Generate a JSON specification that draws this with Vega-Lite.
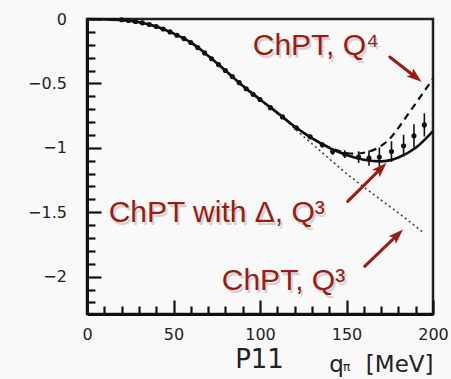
{
  "$schema": "https://vega.github.io/schema/vega-lite/v6.json",
  "width": 346,
  "height": 295,
  "autosize": {"type": "none"},
  "padding": {"left": 87, "top": 19, "right": 18, "bottom": 65},
  "background": "#f9f9f9",
  "config": {
    "view": {"stroke": "#222", "strokeWidth": 2.5},
    "axis": {"grid": false}
  },
  "datasets": {
    "curves": [
      {"q": 0, "v": 0, "m": "d"}, {"q": 10, "v": -0.002, "m": "d"}, {"q": 20, "v": -0.008, "m": "d"}, {"q": 30, "v": -0.025, "m": "d"}, {"q": 40, "v": -0.058, "m": "d"}, {"q": 50, "v": -0.112, "m": "d"}, {"q": 60, "v": -0.182, "m": "d"}, {"q": 70, "v": -0.285, "m": "d"}, {"q": 80, "v": -0.4, "m": "d"}, {"q": 90, "v": -0.518, "m": "d"}, {"q": 100, "v": -0.625, "m": "d"}, {"q": 110, "v": -0.728, "m": "d"}, {"q": 120, "v": -0.835, "m": "d"}, {"q": 130, "v": -0.925, "m": "d"}, {"q": 140, "v": -1.0, "m": "d"}, {"q": 150, "v": -1.055, "m": "d"}, {"q": 160, "v": -1.092, "m": "d"}, {"q": 170, "v": -1.105, "m": "d"}, {"q": 180, "v": -1.075, "m": "d"}, {"q": 190, "v": -1.0, "m": "d"}, {"q": 200, "v": -0.87, "m": "d"},
      {"q": 0, "v": 0, "m": "q4"}, {"q": 10, "v": -0.002, "m": "q4"}, {"q": 20, "v": -0.008, "m": "q4"}, {"q": 30, "v": -0.025, "m": "q4"}, {"q": 40, "v": -0.058, "m": "q4"}, {"q": 50, "v": -0.112, "m": "q4"}, {"q": 60, "v": -0.182, "m": "q4"}, {"q": 70, "v": -0.285, "m": "q4"}, {"q": 80, "v": -0.4, "m": "q4"}, {"q": 90, "v": -0.518, "m": "q4"}, {"q": 100, "v": -0.625, "m": "q4"}, {"q": 110, "v": -0.728, "m": "q4"}, {"q": 120, "v": -0.835, "m": "q4"}, {"q": 130, "v": -0.925, "m": "q4"}, {"q": 140, "v": -0.995, "m": "q4"}, {"q": 145, "v": -1.022, "m": "q4"}, {"q": 150, "v": -1.04, "m": "q4"}, {"q": 155, "v": -1.045, "m": "q4"}, {"q": 160, "v": -1.038, "m": "q4"}, {"q": 165, "v": -1.02, "m": "q4"}, {"q": 170, "v": -0.985, "m": "q4"}, {"q": 175, "v": -0.93, "m": "q4"}, {"q": 180, "v": -0.845, "m": "q4"}, {"q": 185, "v": -0.75, "m": "q4"}, {"q": 190, "v": -0.655, "m": "q4"}, {"q": 195, "v": -0.56, "m": "q4"}, {"q": 200, "v": -0.465, "m": "q4"},
      {"q": 0, "v": 0, "m": "q3"}, {"q": 10, "v": -0.002, "m": "q3"}, {"q": 20, "v": -0.008, "m": "q3"}, {"q": 30, "v": -0.025, "m": "q3"}, {"q": 40, "v": -0.058, "m": "q3"}, {"q": 50, "v": -0.112, "m": "q3"}, {"q": 60, "v": -0.182, "m": "q3"}, {"q": 70, "v": -0.285, "m": "q3"}, {"q": 80, "v": -0.4, "m": "q3"}, {"q": 90, "v": -0.518, "m": "q3"}, {"q": 100, "v": -0.625, "m": "q3"}, {"q": 110, "v": -0.728, "m": "q3"}, {"q": 115, "v": -0.785, "m": "q3"}, {"q": 120, "v": -0.85, "m": "q3"}, {"q": 125, "v": -0.91, "m": "q3"}, {"q": 130, "v": -0.968, "m": "q3"}, {"q": 140, "v": -1.085, "m": "q3"}, {"q": 150, "v": -1.2, "m": "q3"}, {"q": 160, "v": -1.305, "m": "q3"}, {"q": 170, "v": -1.405, "m": "q3"}, {"q": 180, "v": -1.505, "m": "q3"}, {"q": 190, "v": -1.61, "m": "q3"}, {"q": 195, "v": -1.665, "m": "q3"}
    ],
    "points": [
      {"q": 20, "v": -0.006, "lo": -0.016, "hi": 0.004}, {"q": 24, "v": -0.012, "lo": -0.022, "hi": -0.002}, {"q": 28, "v": -0.019, "lo": -0.029, "hi": -0.009}, {"q": 32, "v": -0.03, "lo": -0.04, "hi": -0.02}, {"q": 36, "v": -0.043, "lo": -0.053, "hi": -0.033}, {"q": 40, "v": -0.058, "lo": -0.068, "hi": -0.048}, {"q": 44, "v": -0.078, "lo": -0.088, "hi": -0.068}, {"q": 48, "v": -0.1, "lo": -0.11, "hi": -0.09}, {"q": 52, "v": -0.126, "lo": -0.136, "hi": -0.116}, {"q": 56, "v": -0.152, "lo": -0.162, "hi": -0.142}, {"q": 60, "v": -0.182, "lo": -0.192, "hi": -0.172}, {"q": 64, "v": -0.222, "lo": -0.232, "hi": -0.212}, {"q": 68, "v": -0.263, "lo": -0.273, "hi": -0.253}, {"q": 72, "v": -0.308, "lo": -0.318, "hi": -0.298}, {"q": 76, "v": -0.354, "lo": -0.364, "hi": -0.344}, {"q": 80, "v": -0.4, "lo": -0.41, "hi": -0.39}, {"q": 84, "v": -0.447, "lo": -0.457, "hi": -0.437}, {"q": 88, "v": -0.494, "lo": -0.504, "hi": -0.484}, {"q": 92, "v": -0.542, "lo": -0.552, "hi": -0.532}, {"q": 96, "v": -0.585, "lo": -0.595, "hi": -0.575}, {"q": 100, "v": -0.625, "lo": -0.635, "hi": -0.615}, {"q": 106, "v": -0.688, "lo": -0.7, "hi": -0.676}, {"q": 113, "v": -0.76, "lo": -0.772, "hi": -0.748}, {"q": 121, "v": -0.845, "lo": -0.858, "hi": -0.832}, {"q": 129, "v": -0.915, "lo": -0.93, "hi": -0.9}, {"q": 136, "v": -0.977, "lo": -0.997, "hi": -0.957}, {"q": 142, "v": -1.029, "lo": -1.054, "hi": -1.004}, {"q": 149, "v": -1.049, "lo": -1.079, "hi": -1.019}, {"q": 157, "v": -1.072, "lo": -1.117, "hi": -1.027}, {"q": 163, "v": -1.08, "lo": -1.14, "hi": -1.02}, {"q": 169, "v": -1.072, "lo": -1.147, "hi": -0.997}, {"q": 176, "v": -1.029, "lo": -1.109, "hi": -0.949}, {"q": 183, "v": -0.984, "lo": -1.069, "hi": -0.899}, {"q": 189, "v": -0.907, "lo": -0.997, "hi": -0.817}, {"q": 195, "v": -0.822, "lo": -0.912, "hi": -0.732}
    ],
    "notes": [
      {"label": "ChPT, Q⁴", "q": 95.8, "v": -0.279},
      {"label": "ChPT with Δ, Q³", "q": 12.5, "v": -1.574},
      {"label": "ChPT, Q³", "q": 77.9, "v": -2.1}
    ],
    "arrows": [
      {"q": 175.0, "v": -0.295, "q2": 189.7, "v2": -0.448, "ang": 128},
      {"q": 150.7, "v": -1.416, "q2": 169.8, "v2": -1.162, "ang": 45},
      {"q": 160.5, "v": -1.92, "q2": 179.3, "v2": -1.678, "ang": 46}
    ]
  },
  "resolve": {"axis": {"x": "independent", "y": "independent"}},
  "layer": [
    {
      "data": {"name": "curves"},
      "transform": [{"filter": "datum.m === 'q3'"}],
      "mark": {"type": "line", "color": "#444", "strokeWidth": 1.6, "strokeDash": [2, 3]},
      "encoding": {
        "x": {"field": "q", "type": "quantitative", "scale": {"domain": [0, 200], "nice": false, "zero": false},
          "axis": {
            "orient": "bottom",
            "values": [0, 50, 100, 150, 200],
            "format": "d",
            "tickSize": -14,
            "tickWidth": 2.2, "tickColor": "#111",
            "domainWidth": 3, "domainColor": "#111",
            "labelFont": "DejaVu Sans", "labelFontSize": 16, "labelColor": "#222",
            "labelPadding": 26.7, "labelFlush": false, "labelOverlap": false,
            "title": "P11", "titleFont": "DejaVu Sans", "titleFontSize": 26, "titleFontWeight": "normal", "titleColor": "#222",
            "titleX": 172, "titleY": 53, "titleAlign": "center", "titleBaseline": "alphabetic"
          }},
        "y": {"field": "v", "type": "quantitative", "title": null, "scale": {"domain": [-2.29, 0], "nice": false, "zero": false},
          "axis": {
            "orient": "left",
            "values": [0, -0.5, -1, -1.5, -2],
            "format": ".1~f",
            "tickSize": -14,
            "tickWidth": 2.2, "tickColor": "#111",
            "domainWidth": 3, "domainColor": "#111",
            "labelFont": "DejaVu Sans", "labelFontSize": 16, "labelColor": "#222",
            "labelPadding": 34.6, "labelFlush": false, "labelOverlap": false
          }}
      }
    },
    {
      "data": {"name": "curves"},
      "transform": [{"filter": "datum.m === 'q4'"}],
      "mark": {"type": "line", "color": "#111", "strokeWidth": 2.2, "strokeDash": [7, 5], "interpolate": "monotone"},
      "encoding": {
        "x": {"field": "q", "type": "quantitative", "scale": {"domain": [0, 200], "nice": false, "zero": false},
          "axis": {"orient": "bottom", "values": [10, 20, 30, 40, 60, 70, 80, 90, 110, 120, 130, 140, 160, 170, 180, 190],
            "domain": false, "labels": false, "title": null, "tickSize": -8, "tickWidth": 2.2, "tickColor": "#111"}},
        "y": {"field": "v", "type": "quantitative", "title": null, "scale": {"domain": [-2.29, 0], "nice": false, "zero": false},
          "axis": {"orient": "left", "values": [-0.1, -0.2, -0.3, -0.4, -0.6, -0.7, -0.8, -0.9, -1.1, -1.2, -1.3, -1.4, -1.6, -1.7, -1.8, -1.9, -2.1, -2.2],
            "domain": false, "labels": false, "title": null, "tickSize": -8, "tickWidth": 2.2, "tickColor": "#111"}}
      }
    },
    {
      "data": {"name": "curves"},
      "transform": [{"filter": "datum.m === 'd'"}],
      "mark": {"type": "line", "color": "#111", "strokeWidth": 2.6, "interpolate": "monotone"},
      "encoding": {
        "x": {"field": "q", "type": "quantitative", "scale": {"domain": [0, 200], "nice": false, "zero": false},
          "axis": {"orient": "bottom", "domain": false, "ticks": false, "labels": false,
            "title": "π", "titleFont": "DejaVu Sans", "titleFontSize": 12, "titleFontWeight": "normal", "titleColor": "#222",
            "titleX": 259, "titleY": 56, "titleAlign": "center", "titleBaseline": "alphabetic"}},
        "y": {"field": "v", "type": "quantitative", "title": null, "scale": {"domain": [-2.29, 0], "nice": false, "zero": false}, "axis": null}
      }
    },
    {
      "data": {"name": "points"},
      "mark": {"type": "rule", "color": "#111", "strokeWidth": 1.6},
      "encoding": {
        "x": {"field": "q", "type": "quantitative", "scale": {"domain": [0, 200], "nice": false, "zero": false}, "axis": null},
        "y": {"field": "lo", "type": "quantitative", "title": null, "scale": {"domain": [-2.29, 0], "nice": false, "zero": false}, "axis": null},
        "y2": {"field": "hi"}
      }
    },
    {
      "data": {"name": "points"},
      "mark": {"type": "point", "shape": "circle", "filled": true, "color": "#111", "size": 26, "opacity": 1},
      "encoding": {
        "x": {"field": "q", "type": "quantitative", "scale": {"domain": [0, 200], "nice": false, "zero": false},
          "axis": {"orient": "bottom", "domain": false, "ticks": false, "labels": false,
            "title": "q\u00a0\u00a0\u00a0[MeV]", "titleFont": "DejaVu Sans", "titleFontSize": 23, "titleFontWeight": "normal", "titleColor": "#222",
            "titleX": 346, "titleY": 57, "titleAlign": "right", "titleBaseline": "alphabetic"}},
        "y": {"field": "v", "type": "quantitative", "title": null, "scale": {"domain": [-2.29, 0], "nice": false, "zero": false}, "axis": null}
      }
    },
    {
      "data": {"name": "arrows"},
      "mark": {"type": "rule", "color": "#9a1c12", "strokeWidth": 3, "strokeCap": "round"},
      "encoding": {
        "x": {"field": "q", "type": "quantitative", "scale": {"domain": [0, 200], "nice": false, "zero": false}, "axis": null},
        "y": {"field": "v", "type": "quantitative", "title": null, "scale": {"domain": [-2.29, 0], "nice": false, "zero": false}, "axis": null},
        "x2": {"field": "q2"},
        "y2": {"field": "v2"}
      }
    },
    {
      "data": {"name": "arrows"},
      "mark": {"type": "point", "shape": "M0,-1L0.65,0.85L0,0.45L-0.65,0.85Z", "filled": true, "color": "#9a1c12", "size": 260, "opacity": 1},
      "encoding": {
        "x": {"field": "q2", "type": "quantitative", "scale": {"domain": [0, 200], "nice": false, "zero": false}, "axis": null},
        "y": {"field": "v2", "type": "quantitative", "title": null, "scale": {"domain": [-2.29, 0], "nice": false, "zero": false}, "axis": null},
        "angle": {"field": "ang", "type": "quantitative", "scale": null}
      }
    },
    {
      "data": {"name": "notes"},
      "mark": {"type": "text", "align": "left", "baseline": "alphabetic", "font": "Liberation Sans", "fontSize": 30, "color": "#000", "opacity": 0.15, "dx": 2, "dy": 3},
      "encoding": {
        "x": {"field": "q", "type": "quantitative", "scale": {"domain": [0, 200], "nice": false, "zero": false}, "axis": null},
        "y": {"field": "v", "type": "quantitative", "title": null, "scale": {"domain": [-2.29, 0], "nice": false, "zero": false}, "axis": null},
        "text": {"field": "label"}
      }
    },
    {
      "data": {"name": "notes"},
      "mark": {"type": "text", "align": "left", "baseline": "alphabetic", "font": "Liberation Sans", "fontSize": 30, "color": "#9a1c12"},
      "encoding": {
        "x": {"field": "q", "type": "quantitative", "scale": {"domain": [0, 200], "nice": false, "zero": false}, "axis": null},
        "y": {"field": "v", "type": "quantitative", "title": null, "scale": {"domain": [-2.29, 0], "nice": false, "zero": false}, "axis": null},
        "text": {"field": "label"}
      }
    }
  ]
}
